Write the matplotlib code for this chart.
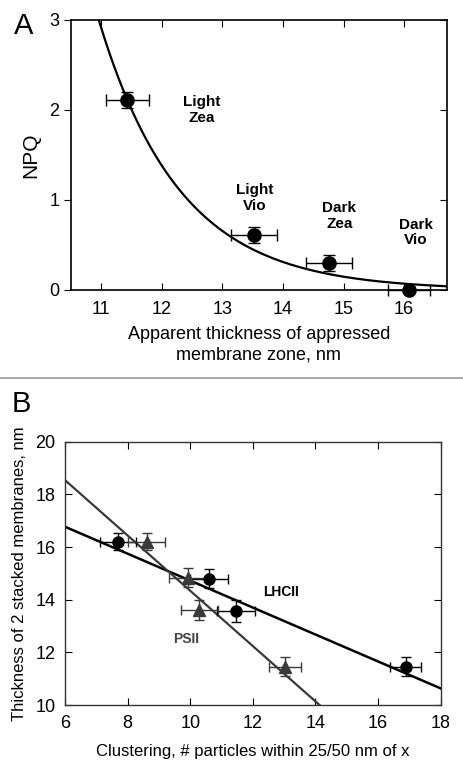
import numpy as np
import matplotlib as mpl
import matplotlib.pyplot as plt

mpl.use('Agg')
plt.rcParams['font.family'] = ['Liberation Sans', 'DejaVu Sans']

# panel A data
a_x = [11.43, 13.52, 14.76, 16.08]
a_y = [2.11, 0.61, 0.30, 0.0]
a_xerr = [0.35, 0.38, 0.38, 0.35]
a_yerr = [0.09, 0.09, 0.09, 0.0]
a_labels = ["Light\nZea", "Light\nVio", "Dark\nZea", "Dark\nVio"]
a_label_x = [12.66, 13.54, 14.93, 16.19]
a_label_y = [2.0, 1.02, 0.82, 0.64]
# exponential fit NPQ = amp * exp(-k * (x - 11))
fit_amp = 2.91
fit_k = 0.745

# panel B data
lhc_x = [7.7, 10.6, 11.46, 16.88]
lhc_y = [16.2, 14.8, 13.57, 11.46]
lhc_xerr = [0.58, 0.6, 0.62, 0.5]
lhc_yerr = [0.33, 0.37, 0.4, 0.35]
psii_x = [8.61, 9.92, 10.29, 13.03]
psii_y = [16.2, 14.84, 13.61, 11.46]
psii_xerr = [0.6, 0.6, 0.6, 0.5]
psii_yerr = [0.33, 0.37, 0.38, 0.35]
lhc_line_x = [6, 18]
lhc_line_y = [16.77, 10.63]
psii_line_x = [6, 14.13]
psii_line_y = [18.54, 10.0]

fig = plt.figure(figsize=(4.63, 7.72), dpi=100)

#---------- panel A
ax = fig.add_axes([71/463, 1-290/772, 375.5/463, 270/772])
xs = np.linspace(10.9, 16.7, 300)
ax.plot(xs, fit_amp*np.exp(-fit_k*(xs-11)), color='black', lw=1.6, zorder=2)
ax.errorbar(a_x, a_y, xerr=a_xerr, yerr=a_yerr, fmt='o', color='black',
            ms=9.5, elinewidth=1, capsize=4, capthick=1, zorder=3, clip_on=False)
for lx, ly, lab in zip(a_label_x, a_label_y, a_labels):
    ax.text(lx, ly, lab, ha='center', va='center', fontsize=11,
            fontweight='bold', linespacing=1.15)
ax.set_xlim(10.5, 16.7)
ax.set_ylim(0, 3)
ax.set_xticks([11, 12, 13, 14, 15, 16])
ax.set_yticks([0, 1, 2, 3])
ax.tick_params(axis='x', direction='in', top=True, labelsize=13, pad=8, length=5)
ax.tick_params(axis='y', direction='out', labelsize=13, length=5)
ax.tick_params(axis='y', which='both', right=True)
for t in ax.yaxis.get_major_ticks():
    t.tick2line.set_marker(mpl.lines.TICKLEFT)
ax.set_ylabel('NPQ', fontsize=15, labelpad=6)
ax.set_xlabel('Apparent thickness of appressed\nmembrane zone, nm', fontsize=13, labelpad=6)
for s in ax.spines.values():
    s.set_linewidth(1.2)
fig.text(14/463, 1-26/772, 'A', fontsize=21, va='center', ha='left')

# separator
fig.add_artist(plt.Line2D([0, 1], [1-378/772, 1-378/772], color='#999999', lw=1.2))

#---------- panel B
bx = fig.add_axes([65/463, 1-705/772, 375.7/463, 263.3/772])
bx.plot(lhc_line_x, lhc_line_y, color='black', lw=1.8, zorder=2)
bx.plot(psii_line_x, psii_line_y, color='#3a3a3a', lw=1.6, zorder=2)
bx.errorbar(lhc_x, lhc_y, xerr=lhc_xerr, yerr=lhc_yerr, fmt='o', color='black',
            ms=8, elinewidth=1, capsize=3.5, capthick=1, zorder=3)
bx.errorbar(psii_x, psii_y, xerr=psii_xerr, yerr=psii_yerr, fmt='^', color='#3a3a3a',
            ms=8.5, elinewidth=1, capsize=3.5, capthick=1, zorder=3)
bx.text(12.9, 14.28, 'LHCII', ha='center', va='center', fontsize=10, fontweight='bold')
bx.text(9.86, 12.51, 'PSII', ha='center', va='center', fontsize=10,
        fontweight='bold', color='#444444')
bx.set_xlim(6, 18)
bx.set_ylim(10, 20)
bx.set_xticks([6, 8, 10, 12, 14, 16, 18])
bx.set_yticks([10, 12, 14, 16, 18, 20])
bx.tick_params(direction='in', top=True, right=True, labelsize=13, length=5, pad=7)
bx.set_ylabel('Thickness of 2 stacked membranes, nm', fontsize=12, labelpad=6)
bx.set_xlabel('Clustering, # particles within 25/50 nm of x', fontsize=12, labelpad=9)
for s in bx.spines.values():
    s.set_linewidth(1.0)
    s.set_color('#333333')
fig.text(12/463, 1-404/772, 'B', fontsize=21, va='center', ha='left')

fig.savefig('out.png', dpi=100)
